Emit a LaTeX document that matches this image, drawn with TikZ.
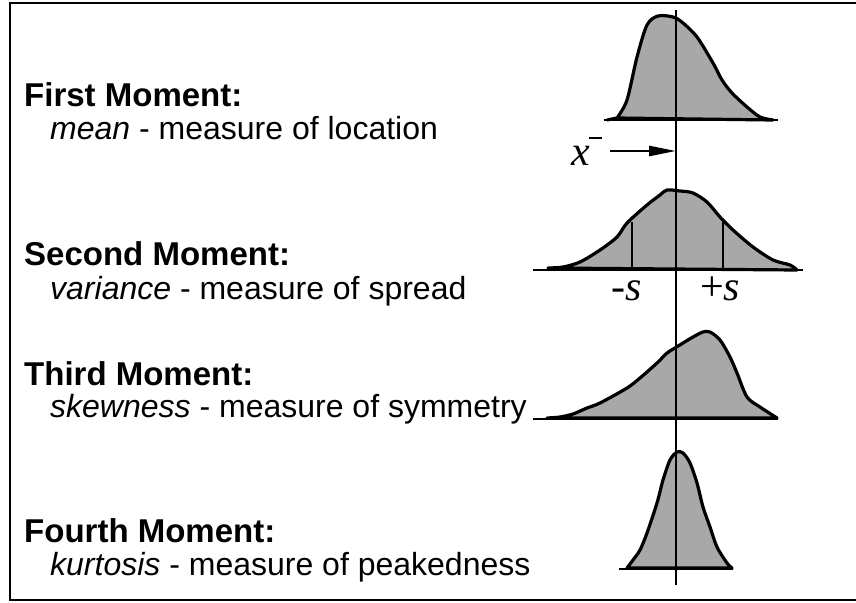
\documentclass[tikz,border=0pt]{standalone}
\usepackage{fontspec}
\setmainfont{Liberation Sans}
\newfontfamily\tmsfont{Liberation Serif}
\usetikzlibrary{arrows.meta}
\definecolor{distgray}{gray}{0.66}
\begin{document}
\begin{tikzpicture}[x=1pt,y=-1pt,
  title/.style={anchor=base west, inner sep=0pt, font=\fontsize{33}{37}\selectfont\bfseries},
  desc/.style={anchor=base west, inner sep=0pt, font=\fontsize{32}{36}\selectfont},
  dist/.style={fill=distgray, draw=black, line width=3.2pt, line join=round},
  axisline/.style={line width=2.8pt},
  lbl/.style={anchor=base west, inner sep=0pt, font=\fontsize{42}{46}\selectfont\tmsfont}]
\useasboundingbox (0,0) rectangle (856,602);
% frame
\draw[line width=2.6pt] (858,3) -- (10,3) -- (10,600) -- (858,600);

% texts
\node[title] (t1) at (24,106) {First Moment:};
\node[desc] (d1) at (50,139) {\textit{mean} - measure of location};
\node[title] (t2) at (24,265) {Second Moment:};
\node[desc] (d2) at (50,299) {\textit{variance} - measure of spread};
\node[title] (t3) at (24,385) {Third Moment:};
\node[desc] (d3) at (50,417) {\textit{skewness} - measure of symmetry};
\node[title] (t4) at (24,542) {Fourth Moment:};
\node[desc] (d4) at (50,575) {\textit{kurtosis} - measure of peakedness};

% curve 1
\draw[dist] (607,120) -- (617,118) plot[smooth] coordinates {(617,118) (627,100) (637,57) (647,25) (658,16) (673,17) (683,23) (697,37) (713,63) (722,80) (732,93) (747,107) (760,117) (773,120)} -- cycle;
\draw[axisline] (604,120) -- (778,120);

% curve 2
\draw[dist] (548,268) plot[smooth] coordinates {(548,268) (563,267) (580,262) (600,250) (617,237) (627,223) (647,205) (660,195) (667,190) (680,191) (693,193) (707,202) (720,217) (733,230) (753,247) (773,260) (790,265) (797,270)} -- cycle;
\draw[axisline] (533,270) -- (803,270);
\draw[axisline] (632,270) -- (632,222);
\draw[axisline] (723,270) -- (723,219);

% curve 3
\draw[dist] (547,418) plot[smooth] coordinates {(547,418) (560,417) (573,414) (587,408) (600,403) (627,388) (640,378) (657,363) (667,353) (675,348) (683,343) (693,337) (703,332) (710,332) (720,340) (730,357) (737,373) (747,397) (760,407) (777,418)} -- cycle;
\draw[axisline] (533,419) -- (778,419);

% curve 4
\draw[dist] (627,568) plot[smooth] coordinates {(627,568) (633,560) (640,550) (647,533) (657,503) (663,480) (670,460) (677,452) (683,453) (690,463) (697,483) (703,507) (710,527) (717,547) (727,563) (732,568)} -- cycle;
\draw[axisline] (619,569) -- (733,569);

% axis
\coordinate (atop) at (676,10);
\coordinate (abot) at (676,585);
\draw[axisline] (atop) -- (abot);

% mean arrow
\node[lbl] (xl) at (571,165) {\itshape x};
\draw[line width=2.4pt] (589,138) -- (602,138);
\coordinate (arrs) at (610,151);
\coordinate (arre) at (676,151);
\draw[line width=2.6pt, -{Triangle[length=27pt,width=10pt]}] (arrs) -- (arre);

% sigma labels
\node[lbl] (ms) at (611,300) {-\itshape s};
\node[lbl] (ps) at (700,300) {+\itshape s};
\end{tikzpicture}
\end{document}
